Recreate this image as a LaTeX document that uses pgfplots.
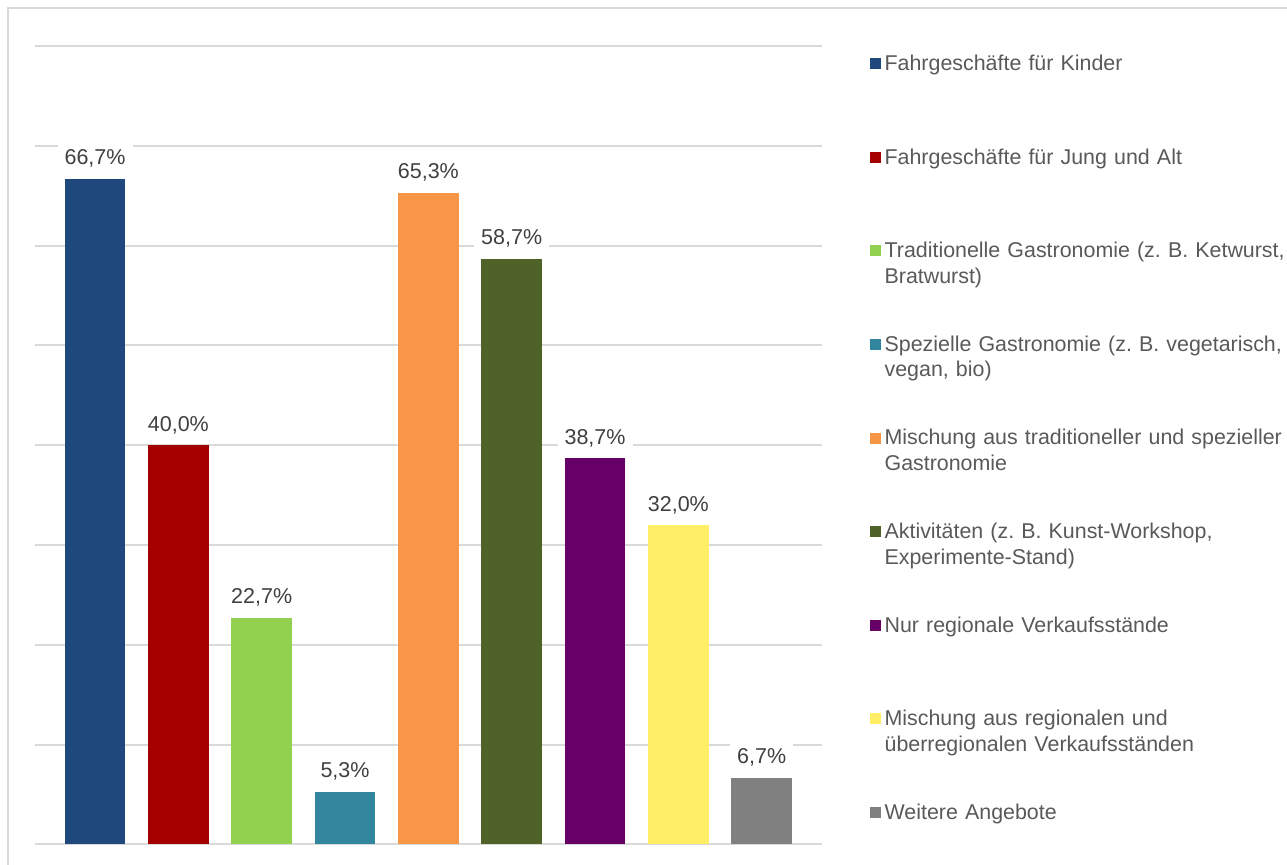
\documentclass[border=0pt]{standalone}
\usepackage{pgfplots}
\pgfplotsset{compat=1.18}
\usepackage{fontspec}
\setmainfont{Liberation Sans}

\definecolor{c1}{HTML}{1F497D}
\definecolor{c2}{HTML}{A50000}
\definecolor{c3}{HTML}{92D050}
\definecolor{c4}{HTML}{31859C}
\definecolor{c5}{HTML}{F79646}
\definecolor{c6}{HTML}{4F6228}
\definecolor{c7}{HTML}{660066}
\definecolor{c8}{HTML}{FFEE66}
\definecolor{c9}{HTML}{808080}
\definecolor{gridgray}{HTML}{D9D9D9}
\definecolor{labeltext}{HTML}{404040}
\definecolor{legtext}{HTML}{595959}

\pgfplotsset{
  mybar/.style={ybar, bar width=0.73, draw=none, fill=#1,
    legend image code/.code={\fill[#1] (0pt,0.6pt) rectangle (5.5pt,6.1pt);}},
}

\begin{document}
\frenchspacing
\begin{tikzpicture}[x=1pt,y=1pt]
\path[use as bounding box] (0,0) rectangle (643.5,432.5);
\draw[gridgray, line width=1pt] (4,0) -- (4,428.5) -- (643.5,428.5);
\begin{axis}[
  at={(17.35pt,10.25pt)}, anchor=south west,
  scale only axis, width=393.8pt, height=399.25pt,
  xmin=-0.724, xmax=8.727, ymin=0, ymax=80,
  axis line style={draw=none},
  xtick=\empty, ytick={0,10,...,80}, yticklabels={},
  major tick length=0pt,
  ymajorgrids, grid style={gridgray, line width=1pt},
  clip=false,
  nodes near coords={\pgfmathprintnumber{\pgfplotspointmeta}\%},
  /pgf/number format/.cd, fixed, fixed zerofill, precision=1, use comma,
    assume math mode=true, /pgfplots/.cd,
  every node near coord/.append style={font=\fontsize{10.75}{12.9}\selectfont,
    text=labeltext, fill=white, inner xsep=3.5pt, inner ysep=3pt,
    anchor=base, yshift=7pt},
  legend style={at={(1.0606,1)}, anchor=north west, draw=none, fill=none,
    inner sep=0pt, row sep=34.8pt, column sep=1.6pt,
    font=\fontsize{10.7}{12.85}\selectfont\frenchspacing, text=legtext,
    cells={anchor=base west},
    nodes={inner sep=0pt, text height=12pt, text depth=0pt,
      text width=215pt, align=left}},
]
\addplot[mybar=c1] coordinates {(0,66.7)};
\addlegendentry{Fahrgeschäfte für Kinder}
\addplot[mybar=c2] coordinates {(1,40.0)};
\addlegendentry{Fahrgeschäfte für Jung und Alt}
\addplot[mybar=c3] coordinates {(2,22.7)};
\addlegendentry{Traditionelle Gastronomie (z. B. Ketwurst,\\Bratwurst)}
\addplot[mybar=c4] coordinates {(3,5.3)};
\addlegendentry{Spezielle Gastronomie (z. B. vegetarisch,\\vegan, bio)}
\addplot[mybar=c5] coordinates {(4,65.3)};
\addlegendentry{Mischung aus traditioneller und spezieller\\Gastronomie}
\addplot[mybar=c6] coordinates {(5,58.7)};
\addlegendentry{Aktivitäten (z. B. Kunst-Workshop,\\Experimente-Stand)}
\addplot[mybar=c7] coordinates {(6,38.7)};
\addlegendentry{Nur regionale Verkaufsstände}
\addplot[mybar=c8] coordinates {(7,32.0)};
\addlegendentry{Mischung aus regionalen und\\überregionalen Verkaufsständen}
\addplot[mybar=c9] coordinates {(8,6.7)};
\addlegendentry{Weitere Angebote}
\end{axis}
\end{tikzpicture}
\end{document}
